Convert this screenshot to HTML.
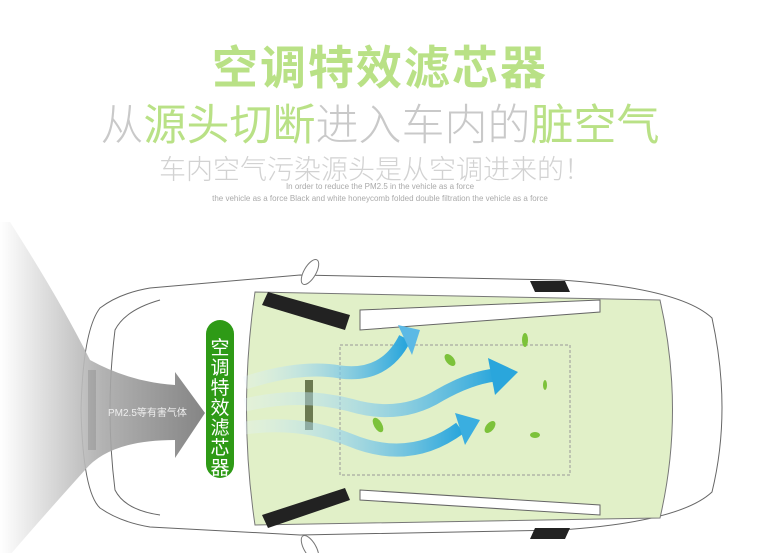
<!DOCTYPE html>
<html><head><meta charset="utf-8"><style>
body{margin:0;width:760px;height:553px;background:#fff;overflow:hidden;position:relative;font-family:"Liberation Sans","Noto Sans CJK SC",sans-serif}
.t{position:absolute;left:0;width:760px;text-align:center;white-space:nowrap}
</style></head><body>
<div class="t" style="top:32px;font-size:46px;font-weight:bold;color:#b9e186;letter-spacing:2px">空调特效滤芯器</div>
<div class="t" style="top:91px;font-size:43px;color:#c9c9c9;font-weight:300;left:0px">从<b style="color:#b9e186">源头切断</b>进入车内的<b style="color:#b9e186">脏空气</b></div>
<div class="t" style="top:148px;font-size:27px;color:#d2d2d2;font-weight:300;left:-5px">车内空气污染源头是从空调进来的！</div>
<div class="t" style="top:182px;font-size:8px;color:#aaa">In order to reduce the PM2.5 in the vehicle as a force</div>
<div class="t" style="top:194px;font-size:8px;color:#aaa">the vehicle as a force Black and white honeycomb folded double filtration the vehicle as a force</div>
<svg width="760" height="553" style="position:absolute;left:0;top:0">
<defs>
<linearGradient id="g" x1="0" x2="1"><stop offset="0" stop-color="#fff"/><stop offset="0.5" stop-color="#aaa"/><stop offset="1" stop-color="#777"/></linearGradient>
<linearGradient id="b" x1="0" x2="1"><stop offset="0" stop-color="#e8f4fb" stop-opacity="0.3"/><stop offset="1" stop-color="#2aa6dc"/></linearGradient>
</defs>
<path d="M150,288 Q120,293 100,308 Q83,330 81,410 Q83,492 100,508 Q120,522 150,527 L300,535 L560,530 Q680,522 712,492 Q732,410 712,318 Q680,288 560,280 L300,275 Z" fill="#fff" stroke="#666" stroke-width="1"/>
<path d="M160,300 Q125,310 115,330 Q105,410 115,490 Q125,510 160,515" fill="none" stroke="#666"/>
<path d="M255,292 L660,300 Q685,410 660,518 L255,525 Q238,410 255,292 Z" fill="#e1f0c8" stroke="#777"/>
<path d="M340,345 L570,345 L570,475 L340,475 Z" fill="none" stroke="#999" stroke-dasharray="3,2"/>
<path d="M360,310 L600,300 L600,312 L360,330 Z" fill="#fff" stroke="#666"/>
<path d="M360,490 L600,505 L600,515 L360,500 Z" fill="#fff" stroke="#666"/>
<path d="M268,292 L350,315 L345,330 L262,305 Z" fill="#222"/>
<path d="M268,528 L350,500 L345,488 L262,515 Z" fill="#222"/>
<path d="M530,281 L565,281 L570,292 L535,292Z" fill="#222"/>
<path d="M530,539 L565,539 L570,528 L535,528Z" fill="#222"/>
<ellipse cx="310" cy="272" rx="6" ry="14" fill="#fff" stroke="#777" transform="rotate(30 310 272)"/>
<ellipse cx="310" cy="548" rx="6" ry="14" fill="#fff" stroke="#777" transform="rotate(-30 310 548)"/>
<rect x="88" y="370" width="8" height="80" fill="#333"/>
<rect x="305" y="380" width="8" height="50" fill="#6b7a50"/>
<path d="M10,222 Q60,300 90,360 Q130,382 175,385 L175,372 L205,413 L175,458 L175,440 Q110,440 85,470 Q40,520 10,555 L0,555 L0,222 Z" fill="url(#g)" opacity="0.9"/>
<text x="108" y="416" font-size="10" fill="#eee" font-family="Liberation Sans,Noto Sans CJK SC,sans-serif">PM2.5等有害气体</text>
<rect x="206" y="320" width="28" height="158" rx="14" fill="#2e9a16"/>
<text font-size="19" fill="#fff" text-anchor="middle" font-family="Liberation Sans,Noto Sans CJK SC,sans-serif"><tspan x="220" y="354">空</tspan><tspan x="220" y="374">调</tspan><tspan x="220" y="394">特</tspan><tspan x="220" y="414">效</tspan><tspan x="220" y="434">滤</tspan><tspan x="220" y="454">芯</tspan><tspan x="220" y="474">器</tspan></text>
<g fill="none" stroke="url(#b)" stroke-width="13">
<path d="M245,383 Q300,365 340,372 Q385,378 405,338"/>
<path d="M245,405 Q300,392 350,405 Q400,420 440,395 Q470,378 495,375"/>
<path d="M245,428 Q300,420 350,440 Q410,465 460,428"/>
</g>
<polygon points="398,325 420,330 412,355" fill="#5cb9e5"/>
<polygon points="488,358 518,372 495,395" fill="#2aa6dc"/>
<polygon points="455,413 480,420 465,445" fill="#3aaee0"/>
<g fill="#7cc23a"><ellipse cx="450" cy="360" rx="4" ry="7" transform="rotate(-40 450 360)"/><ellipse cx="525" cy="340" rx="3" ry="7"/><ellipse cx="378" cy="425" rx="4" ry="8" transform="rotate(-30 378 425)"/><ellipse cx="490" cy="427" rx="4" ry="7" transform="rotate(40 490 427)"/><ellipse cx="535" cy="435" rx="5" ry="3"/><ellipse cx="545" cy="385" rx="2" ry="5"/></g>
</svg>
</body></html>
